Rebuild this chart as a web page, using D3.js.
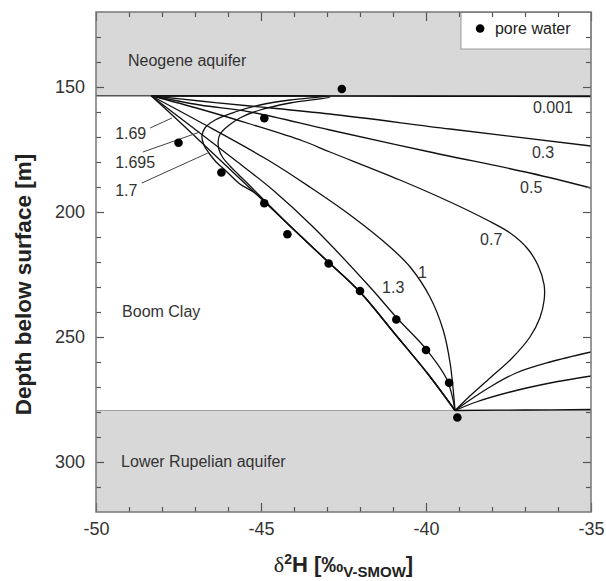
<!DOCTYPE html>
<html>
<head>
<meta charset="utf-8">
<script src="https://cdn.jsdelivr.net/npm/d3@7"></script>
<style>
  html, body { margin: 0; padding: 0; background: #fff; }
  svg { display: block; font-family: "Liberation Sans", Arial, sans-serif; }
</style>
</head>
<body>
<svg id="chart" width="606" height="581"></svg>
<script>
// ---- axis setup -------------------------------------------------------
const xDomain = [-50, -35];
const yDomain = [120, 320];
const xTickLabels = [-50, -45, -40, -35];
const yTickLabels = [150, 200, 250, 300];

// ---- aquifer boundaries (depth, m) ------------------------------------
const neogeneBase = 153.5;
const rupelianTop = 279.4;

// ---- measured pore water ----------------------------------------------
const poreD2H   = [-42.55, -44.9, -47.5, -46.2, -44.9, -44.2, -42.95, -42.0, -40.9, -40.0, -39.3, -39.05];
const poreDepth = [150.8, 162.5, 172.3, 184.2, 196.5, 208.9, 220.6, 231.6, 243.0, 255.2, 268.3, 282.2];

// ---- model profiles: [δ2H, depth] (segments split where they leave the frame)
const curve0001 = [
  [[-48.33, 153.5], [-44, 153.6], [-40, 153.7], [-35, 153.8]],
  [[-35, 279.0], [-37, 279.2], [-39.12, 279.4]]
];
const curve03 = [
  [[-48.33, 153.5], [-46.85, 155.6], [-45.33, 157.6], [-42.91, 160.8], [-39.27, 166.8], [-35, 173.6]],
  [[-35, 265.6], [-36.24, 268.4], [-37.45, 272.0], [-38.48, 276.0], [-39.12, 279.4]]
];
const curve05 = [
  [[-48.33, 153.5], [-46.85, 157.2], [-45.33, 160.0], [-42.91, 167.2], [-39.88, 176.0], [-36.85, 184.4], [-35, 190.4]],
  [[-35, 256.0], [-36.24, 260.0], [-37.27, 264.4], [-38.06, 270.0], [-38.67, 275.2], [-39.12, 279.4]]
];
const curve07 = [
  [[-48.33, 153.5], [-46.85, 158.8], [-45.33, 164.8], [-43.73, 171.6], [-42.91, 176.0], [-40.79, 187.2],
   [-39.27, 196.0], [-38.15, 203.2], [-37.45, 208.4], [-36.94, 214.4], [-36.61, 221.2], [-36.42, 229.2],
   [-36.42, 235.2], [-36.55, 242.4], [-36.85, 250.0], [-37.39, 258.4], [-38.06, 266.4], [-38.67, 273.6],
   [-39.12, 279.4]]
];
const curve1 = [
  [[-48.33, 153.5], [-46.85, 164.0], [-44.79, 179.2], [-43.52, 190.0], [-42.30, 201.2], [-41.09, 214.0],
   [-40.48, 222.0], [-39.88, 234.0], [-39.48, 247.2], [-39.27, 260.4], [-39.12, 279.4]]
];
const curve13 = [
  [[-48.33, 153.5], [-47.15, 165.4], [-45.79, 179.2], [-44.64, 191.2], [-43.42, 206.0], [-41.70, 230.0],
   [-40.88, 242.4], [-40.0, 254.8], [-39.36, 267.2], [-39.12, 279.4]]
];
const curve169 = [
  [[-48.33, 153.5], [-47.30, 166.0], [-46.24, 179.2], [-45.18, 192.4], [-44.12, 205.6], [-43.06, 218.8],
   [-42.0, 232.0], [-40.94, 248.8], [-39.94, 264.8], [-39.12, 279.4]]
];
const curve1695 = [
  [[-48.33, 153.5], [-45.5, 153.55], [-43.0, 153.6], [-44.12, 155.2], [-45.03, 157.2], [-45.79, 160.0],
   [-46.39, 163.2], [-46.70, 166.4], [-46.79, 169.6], [-46.73, 173.2], [-46.58, 176.4], [-46.36, 180.0],
   [-46.09, 183.2], [-45.64, 188.8], [-45.18, 192.4], [-44.12, 205.6], [-43.06, 218.8], [-42.0, 232.0],
   [-40.94, 248.8], [-39.94, 264.8], [-39.12, 279.4]]
];
const curve17 = [
  [[-48.33, 153.5], [-45.5, 153.6], [-42.91, 154.0], [-44.12, 156.4], [-45.03, 159.2], [-45.64, 162.4],
   [-46.0, 165.6], [-46.24, 168.8], [-46.30, 172.0], [-46.27, 175.2], [-46.15, 178.4], [-45.94, 181.6],
   [-45.70, 184.8], [-45.39, 188.8], [-45.03, 193.6], [-44.12, 205.6], [-43.06, 218.8], [-42.0, 232.0],
   [-40.94, 248.8], [-39.94, 264.8], [-39.12, 279.4]]
];

// ---- curve labels: text, anchor [δ2H, depth], optional leader line -----
const curveLabels = ["0.001", "0.3", "0.5", "0.7", "1", "1.3", "1.69", "1.695", "1.7"];
const curveLabelPos = [[-36.76, 160.4], [-36.79, 178.4], [-37.15, 192.4], [-38.36, 213.2],
                       [-40.24, 226.4], [-41.33, 232.4], [-49.42, 170.8], [-49.42, 182.4], [-49.42, 193.6]];
const leaderLines = [null, null, null, null, null, null,
                     [[-48.36, 166.4], [-47.70, 162.4]],
                     [[-48.58, 176.0], [-46.85, 168.0]],
                     [[-48.61, 188.4], [-46.61, 176.4]]];

// ---- layer names ------------------------------------------------------
const layerNames = ["Neogene aquifer", "Boom Clay", "Lower Rupelian aquifer"];
const layerLabelPos = [[-49.03, 141.6], [-49.21, 242.0], [-49.24, 302.0]];

// ---- drawing ----------------------------------------------------------
const svg = d3.select("#chart");
const margin = { left: 96, top: 12, right: 15, bottom: 69 };
const W = 606 - margin.left - margin.right;
const H = 581 - margin.top - margin.bottom;

const x = d3.scaleLinear().domain(xDomain).range([0, W]);
const y = d3.scaleLinear().domain(yDomain).range([0, H]);

const g = svg.append("g").attr("transform", `translate(${margin.left},${margin.top})`);

g.append("clipPath").attr("id", "plotClip")
  .append("rect").attr("width", W).attr("height", H);

// aquifer shading
const shade = "#d8d8d8";
g.append("rect").attr("x", 0).attr("y", 0).attr("width", W)
  .attr("height", y(neogeneBase)).attr("fill", shade);
g.append("rect").attr("x", 0).attr("y", y(rupelianTop)).attr("width", W)
  .attr("height", H - y(rupelianTop)).attr("fill", shade);

g.append("line").attr("x1", 0).attr("x2", W)
  .attr("y1", y(neogeneBase)).attr("y2", y(neogeneBase))
  .attr("stroke", "#555").attr("stroke-width", 1.3);
g.append("line").attr("x1", 0).attr("x2", W)
  .attr("y1", y(rupelianTop)).attr("y2", y(rupelianTop))
  .attr("stroke", "#a0a0a0").attr("stroke-width", 1);

// legend box (sits on the shaded top band, upper right corner)
const legendLeft = -38.94;
const legend = g.append("g");
legend.append("rect")
  .attr("x", x(legendLeft)).attr("y", 0.5)
  .attr("width", W - x(legendLeft)).attr("height", 36.5)
  .attr("fill", "#fff").attr("stroke", "#9a9a9a").attr("stroke-width", 1);
legend.append("circle").attr("cx", x(-38.36)).attr("cy", 16.5).attr("r", 4.3).attr("fill", "#000");
legend.append("text").attr("x", x(-37.91)).attr("y", 22)
  .attr("font-size", 16).attr("fill", "#222").text("pore water");

// model curves
const curves = [curve0001, curve03, curve05, curve07, curve1, curve13, curve169, curve1695, curve17];
const line = d3.line()
  .x(d => x(d[0])).y(d => y(d[1]))
  .curve(d3.curveCatmullRom.alpha(0.5));

const curveG = g.append("g").attr("clip-path", "url(#plotClip)");
curves.forEach(segs => {
  segs.forEach(seg => {
    curveG.append("path").attr("d", line(seg))
      .attr("fill", "none").attr("stroke", "#111").attr("stroke-width", 1.3);
  });
});

// curve labels and leaders
curveLabels.forEach((t, i) => {
  const p = curveLabelPos[i];
  g.append("text").attr("x", x(p[0])).attr("y", y(p[1]))
    .attr("font-size", 16).attr("fill", "#333").text(t);
  const l = leaderLines[i];
  if (l) {
    g.append("line")
      .attr("x1", x(l[0][0])).attr("y1", y(l[0][1]))
      .attr("x2", x(l[1][0])).attr("y2", y(l[1][1]))
      .attr("stroke", "#444").attr("stroke-width", 1);
  }
});

// layer names
layerNames.forEach((t, i) => {
  g.append("text").attr("x", x(layerLabelPos[i][0])).attr("y", y(layerLabelPos[i][1]))
    .attr("font-size", 16).attr("fill", "#333").text(t);
});

// pore water samples
g.append("g").selectAll("circle")
  .data(poreD2H.map((v, i) => [v, poreDepth[i]]))
  .join("circle")
  .attr("cx", d => x(d[0])).attr("cy", d => y(d[1]))
  .attr("r", 4.3).attr("fill", "#000");

// axes: minor ticks every 1 ‰ / 10 m, longer ticks at labelled values, all pointing inward
const xTickVals = d3.range(xDomain[0], xDomain[1] + 1, 1);
const yTickVals = d3.range(yDomain[0] + 10, yDomain[1], 10);
const isMajorX = v => xTickLabels.includes(v);
const isMajorY = v => yTickLabels.includes(v);

function styleAxis(sel, isMajor, minorLen, majorLen, sign, attr) {
  sel.select(".domain").remove();
  sel.selectAll(".tick line")
    .attr(attr, d => sign * (isMajor(d) ? majorLen : minorLen))
    .attr("stroke", "#555").attr("stroke-width", 1.2);
  sel.selectAll(".tick text").attr("fill", "#333").attr("font-size", 18)
    .attr("font-family", "'Liberation Sans', Arial, sans-serif");
}

const fmtX = v => isMajorX(v) ? String(v).replace("\u2212", "-") : "";
const fmtY = v => isMajorY(v) ? String(v) : "";

g.append("g").attr("transform", `translate(0,${H})`)
  .call(d3.axisBottom(x).tickValues(xTickVals).tickFormat(fmtX).tickSizeInner(-5).tickSizeOuter(0).tickPadding(10))
  .call(s => styleAxis(s, isMajorX, 5, 9, -1, "y2"));
g.append("g")
  .call(d3.axisTop(x).tickValues(xTickVals).tickFormat("").tickSizeInner(-5).tickSizeOuter(0))
  .call(s => styleAxis(s, isMajorX, 5, 9, 1, "y2"));
g.append("g")
  .call(d3.axisLeft(y).tickValues(yTickVals).tickFormat(fmtY).tickSizeInner(-5).tickSizeOuter(0).tickPadding(11))
  .call(s => styleAxis(s, isMajorY, 5, 8, 1, "x2"));
g.append("g").attr("transform", `translate(${W},0)`)
  .call(d3.axisRight(y).tickValues(yTickVals).tickFormat("").tickSizeInner(-5).tickSizeOuter(0))
  .call(s => styleAxis(s, isMajorY, 5, 8, -1, "x2"));

// frame
g.append("rect").attr("width", W).attr("height", H)
  .attr("fill", "none").attr("stroke", "#777").attr("stroke-width", 1.5);

// axis titles
svg.append("text")
  .attr("transform", `translate(31,${margin.top + y(229)}) rotate(-90)`)
  .attr("text-anchor", "middle").attr("font-size", 22.5).attr("font-weight", "bold")
  .attr("fill", "#222").text("Depth below surface [m]");

const xt = svg.append("text")
  .attr("x", margin.left + x(-42.5)).attr("y", 572)
  .attr("text-anchor", "middle").attr("font-size", 22).attr("font-weight", "bold").attr("fill", "#222");
xt.append("tspan").attr("font-family", "'Liberation Serif', 'DejaVu Serif', serif").attr("font-weight", "normal").text("δ");
xt.append("tspan").attr("font-size", 14).attr("dy", -8).text("2");
xt.append("tspan").attr("dy", 8).text("H [‰");
xt.append("tspan").attr("font-size", 15).attr("dy", 5).text("V-SMOW");
xt.append("tspan").attr("dy", -5).text("]");
</script>
</body>
</html>
